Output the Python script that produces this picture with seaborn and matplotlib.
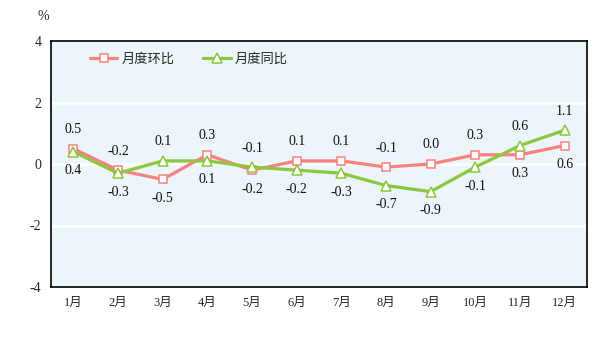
import matplotlib
matplotlib.use("Agg")
import matplotlib.pyplot as plt
import seaborn as sns
import pandas as pd
import numpy as np

months = ["1月", "2月", "3月", "4月", "5月", "6月", "7月", "8月", "9月", "10月", "11月", "12月"]
mom = [0.5, -0.2, -0.5, 0.3, -0.2, 0.1, 0.1, -0.1, 0.0, 0.3, 0.3, 0.6]
yoy = [0.4, -0.3, 0.1, 0.1, -0.1, -0.2, -0.3, -0.7, -0.9, -0.1, 0.6, 1.1]
series_names = ["月度环比", "月度同比"]

sns.set_theme(style="white")
plt.rcParams['font.family'] = ['Liberation Serif', 'Noto Sans CJK SC']
plt.rcParams['axes.unicode_minus'] = False

fig = plt.figure(figsize=(6.02, 3.46), dpi=100)
ax = fig.add_axes([51/602, 1-287/346, 536/602, 246/346])
ax.set_facecolor("#ecf5f9")

x = np.arange(len(months))
df = pd.DataFrame({"x": np.concatenate([x, x]),
                   "v": mom + yoy,
                   "s": [series_names[0]] * 12 + [series_names[1]] * 12})

c1 = "#f78181"
c2 = "#8dc63f"
for yv in (-2, 0, 2):
    ax.axhline(yv, color="white", lw=1.8, zorder=1)

sns.lineplot(data=df[df.s == series_names[0]], x="x", y="v", ax=ax, color=c1, lw=2.3,
             marker="s", markersize=6.2, markerfacecolor="white", markeredgecolor=c1,
             markeredgewidth=1.1, label=series_names[0], zorder=3)
sns.lineplot(data=df[df.s == series_names[1]], x="x", y="v", ax=ax, color=c2, lw=2.3,
             marker="^", markersize=6.5, markerfacecolor="white", markeredgecolor=c2,
             markeredgewidth=1.1, label=series_names[1], zorder=4)

for i in range(12):
    a, b = mom[i], yoy[i]
    if a >= b:
        hi, lo = a, b
    else:
        hi, lo = b, a
    ax.annotate(f"{hi:.1f}", (i, hi), xytext=(0, 9), textcoords="offset points",
                ha="center", va="bottom", fontsize=10, color="#111111")
    ax.annotate(f"{lo:.1f}", (i, lo), xytext=(0, -9), textcoords="offset points",
                ha="center", va="top", fontsize=10, color="#111111")

ax.set_xlim(-0.5, 11.5)
ax.set_ylim(-4, 4)
ax.set_yticks([-4, -2, 0, 2, 4])
ax.set_yticklabels(["-4", "-2", "0", "2", "4"], fontsize=10)
ax.set_xticks(x)
ax.set_xticklabels(months, fontsize=9)
ax.tick_params(axis="y", direction="in", length=4, width=1, color="black", pad=7)
ax.tick_params(axis="x", length=0, pad=7)
ax.set_xlabel("")
ax.set_ylabel("")
for sp in ax.spines.values():
    sp.set_visible(True)
    sp.set_color("black")
    sp.set_linewidth(1.2)

leg = ax.legend(loc="upper left", bbox_to_anchor=(0.05, 1.0), ncol=2, frameon=False,
                fontsize=9.5, handlelength=2.1, columnspacing=2.2, handletextpad=0.3)

fig.text(37/602, 1-16/346, "%", fontsize=10, ha="left", va="center")

fig.savefig("out.png", dpi=100)
